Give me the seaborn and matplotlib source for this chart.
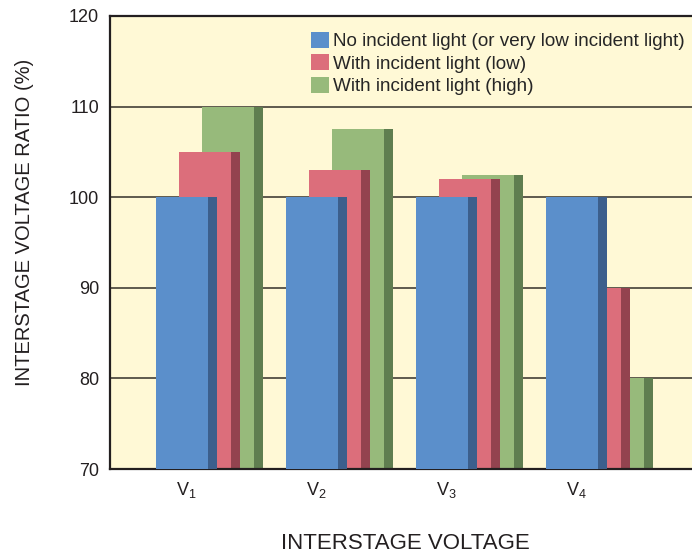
import pandas as pd
import numpy as np
import seaborn as sns
import matplotlib.pyplot as plt
from matplotlib.patches import Rectangle

stages = ['V1', 'V2', 'V3', 'V4']
stage_labels = ['V$_\\mathregular{1}$', 'V$_\\mathregular{2}$',
                'V$_\\mathregular{3}$', 'V$_\\mathregular{4}$']
conditions = ['No incident light (or very low incident light)',
              'With incident light (low)',
              'With incident light (high)']
no_light = [100, 100, 100, 100]
low_light = [105, 103, 102, 90]
high_light = [110, 107.5, 102.5, 80]

df = pd.DataFrame({'Stage': stages * 3,
                   'Condition': np.repeat(conditions, 4),
                   'Ratio': no_light + low_light + high_light})

face = ['#5b8fcb', '#dc6e7b', '#97ba7b']
side = ['#3c5f8c', '#93434f', '#5f7e50']

sns.set_style('white')
plt.rcParams['font.family'] = ['Liberation Sans', 'DejaVu Sans']
plt.rcParams['mathtext.default'] = 'regular'

fig = plt.figure(figsize=(6.92, 5.53), dpi=100)
ax = fig.add_axes([110/692, 84/553, 582/692, 453/553])
ax.set_facecolor('#fff9d6')

sns.barplot(data=df, x='Stage', y='Ratio', hue='Condition', palette=face,
            saturation=1, errorbar=None, ax=ax, linewidth=0)

# overlapping pseudo-3d bars: front face + darker side face
front_w, side_w, step = 0.40, 0.07, 0.177
for i, cont in enumerate(ax.containers):
    for j, bar in enumerate(cont.patches):
        x0 = j - 0.231 + i * step
        bar.set_x(x0)
        bar.set_width(front_w)
        bar.set_zorder(3 - 0.5 * i)
        ax.add_patch(Rectangle((x0 + front_w, 0), side_w, bar.get_height(),
                               facecolor=side[i], linewidth=0, zorder=3 - 0.5 * i))

ax.get_legend().remove()
ax.legend(handles=[c.patches[0] for c in ax.containers], labels=conditions,
          loc='upper right', frameon=False, fontsize=13.6,
          handlelength=0.95, handleheight=0.95, handletextpad=0.22,
          labelspacing=0.2, borderaxespad=0.0, bbox_to_anchor=(1.0, 0.982))

ax.set_ylim(70, 120)
ax.set_yticks([70, 80, 90, 100, 110, 120])
ax.set_xlim(-0.585, 3.892)
ax.set_xticks(range(4))
ax.set_xticklabels(stage_labels, fontsize=13)
ax.tick_params(axis='both', length=0, labelsize=13, colors='#231f20')
ax.tick_params(axis='y', pad=8)
ax.tick_params(axis='x', pad=8)
ax.set_axisbelow(True)
ax.yaxis.grid(True, color='#5e5a4e', linewidth=1.4)

for s in ['left', 'bottom', 'top']:
    ax.spines[s].set_color('#231f20')
    ax.spines[s].set_linewidth(1.6)
ax.spines['right'].set_visible(False)

ax.set_xlabel('INTERSTAGE VOLTAGE', fontsize=16, color='#231f20')
ax.set_ylabel('INTERSTAGE VOLTAGE RATIO (%)', fontsize=14.5, color='#231f20')
ax.xaxis.set_label_coords(0.508, -0.141)
ax.yaxis.set_label_coords(-0.130, 0.545)

fig.savefig('out.png', dpi=100)
